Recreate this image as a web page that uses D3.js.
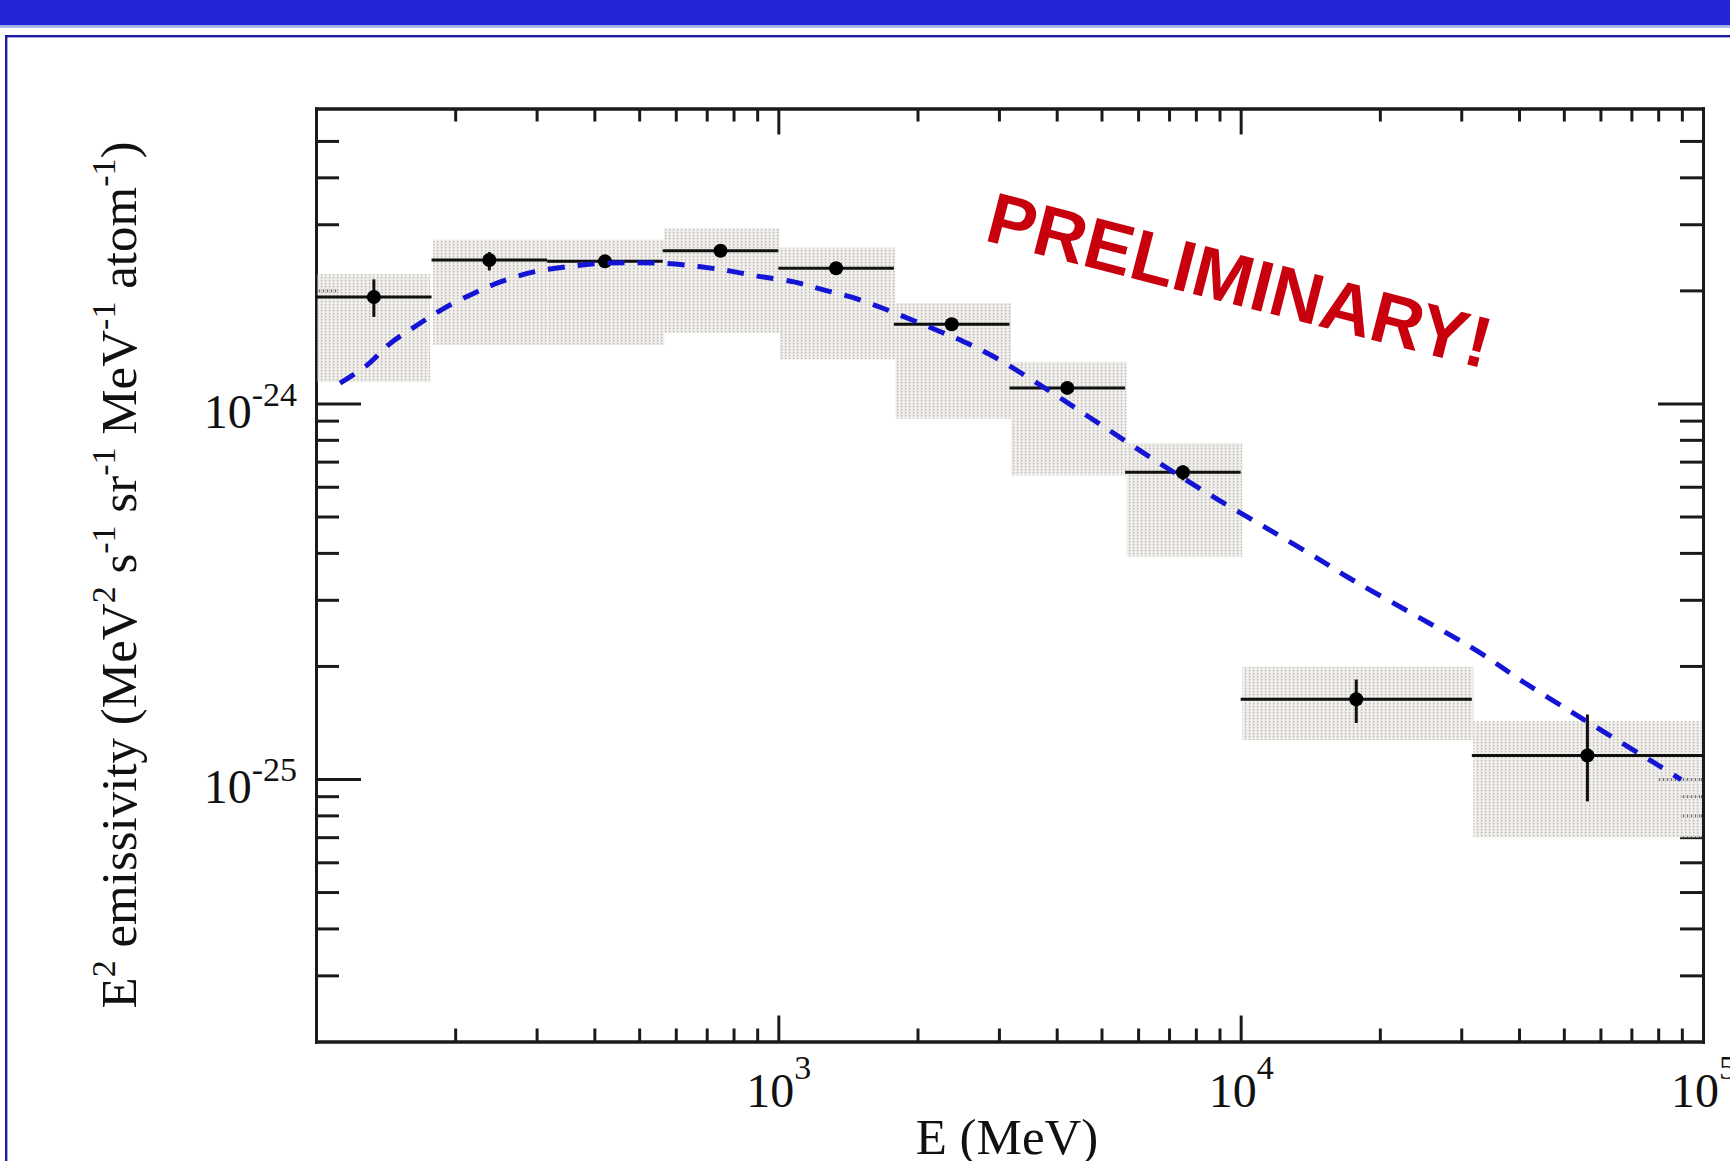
<!DOCTYPE html>
<meta charset="utf-8">
<title>E2 emissivity spectrum</title>
<style>
    body {
        margin: 0;
        background: #fff;
    }

    svg {
        display: block;
    }

    .axis path,
    .axis line {
        stroke: #1a1a1a;
        stroke-width: 3;
        fill: none;
    }

    .axis text,
    .label {
        font-family: "Liberation Serif", "DejaVu Serif", serif;
        fill: #111;
    }
</style>

<body>
    <div id="chart"></div>
    <script src="https://d3js.org/d3.v7.min.js"></script>

    <script>
        // energy bins (MeV)
        var binLo = [100, 177.8, 316.2, 562.3, 1000, 1778, 3162, 5623, 10000, 31623];
        var binHi = [177.8, 316.2, 562.3, 1000, 1778, 3162, 5623, 10000, 31623, 100000];
        var energy = [133.4, 237.1, 421.7, 749.9, 1333.5, 2371.4, 4217, 7499, 17783, 56234];

        // emissivity points, statistical errors, systematic band
        var emis = [1.92e-24, 2.41e-24, 2.39e-24, 2.55e-24, 2.29e-24, 1.625e-24, 1.10e-24, 6.56e-25, 1.63e-25, 1.155e-25];
        var statLo = [1.70e-24, 2.26e-24, 2.33e-24, 2.48e-24, 2.23e-24, 1.58e-24, 1.07e-24, 6.24e-25, 1.41e-25, 8.72e-26];
        var statHi = [2.14e-24, 2.53e-24, 2.45e-24, 2.62e-24, 2.35e-24, 1.67e-24, 1.13e-24, 6.84e-25, 1.84e-25, 1.485e-25];
        var sysLo = [1.14e-24, 1.43e-24, 1.43e-24, 1.54e-24, 1.31e-24, 9.10e-25, 6.43e-25, 3.91e-25, 1.27e-25, 6.99e-26];
        var sysHi = [2.21e-24, 2.73e-24, 2.73e-24, 2.93e-24, 2.60e-24, 1.85e-24, 1.29e-24, 7.84e-25, 1.99e-25, 1.426e-25];

        // model curve (blue dashed)
        var modelE = [112.7, 128.8, 144.6, 165.3, 188.7, 219.2, 250.4, 295.8, 349.2, 412.4, 486.8, 575.2, 679.0,
            788.6, 900.9, 1081, 1236, 1435, 1667, 1936, 2248, 2525, 2933, 3891, 5077, 6627, 8643, 11470, 14962,
            17095, 32520, 40590, 51560, 63190, 77430, 89700];
        var modelV = [1.133e-24, 1.263e-24, 1.443e-24, 1.615e-24, 1.789e-24, 1.963e-24, 2.107e-24, 2.241e-24,
            2.311e-24, 2.360e-24, 2.368e-24, 2.360e-24, 2.311e-24, 2.251e-24, 2.183e-24, 2.107e-24, 2.015e-24,
            1.921e-24, 1.801e-24, 1.673e-24, 1.55e-24, 1.458e-24, 1.329e-24, 1.072e-24, 8.643e-25, 6.973e-25,
            5.68e-25, 4.63e-25, 3.81e-25, 3.44e-25, 2.19e-25, 1.823e-25, 1.516e-25, 1.30e-25, 1.115e-25, 9.96e-26];

        // ticks
        var xMajor = [1e3, 1e4, 1e5];
        var xMinor = [200, 300, 400, 500, 600, 700, 800, 900, 2000, 3000, 4000, 5000, 6000, 7000, 8000, 9000,
            20000, 30000, 40000, 50000, 60000, 70000, 80000, 90000];
        var yMajor = [1e-25, 1e-24];
        var yMinor = [3e-26, 4e-26, 5e-26, 6e-26, 7e-26, 8e-26, 9e-26, 2e-25, 3e-25, 4e-25, 5e-25, 6e-25, 7e-25,
            8e-25, 9e-25, 2e-24, 3e-24, 4e-24, 5e-24];

        var width = 1730,
            height = 1161,
            plot = { left: 316, right: 1703, top: 108.5, bottom: 1041.5 };

        var svg = d3.select("#chart")
            .append("svg")
            .attr("width", width)
            .attr("height", height);

        // slide header
        svg.append("rect")
            .attr("x", 0).attr("y", 0)
            .attr("width", width).attr("height", 25.5)
            .attr("fill", "#2424d8");
        svg.append("rect")
            .attr("x", 0).attr("y", 25.5)
            .attr("width", width).attr("height", 2.5)
            .attr("fill", "#a4bbe8");
        svg.append("rect")
            .attr("x", 6.2).attr("y", 36.2)
            .attr("width", width).attr("height", height)
            .attr("fill", "none")
            .attr("stroke", "#1c1ca0")
            .attr("stroke-width", 2.4);

        // dotted fill for the systematic band (lets ticks underneath show through as dashes)
        var pat = svg.append("defs").append("pattern")
            .attr("id", "dots")
            .attr("patternUnits", "userSpaceOnUse")
            .attr("width", 4).attr("height", 3);
        pat.append("rect").attr("width", 3).attr("height", 3).attr("fill", "#ece9e6").attr("fill-opacity", 0.9);
        pat.append("rect").attr("x", 3).attr("width", 1).attr("height", 3).attr("fill", "#e4e1de").attr("fill-opacity", 0.45);
        pat.append("rect").attr("x", 1).attr("y", 1).attr("width", 1.3).attr("height", 1.3).attr("fill", "#bab5b0");

        var x = d3.scaleLog().domain([100, 1e5]).range([plot.left, plot.right]);
        var y = d3.scaleLog().domain([2e-26, 6.1e-24]).range([plot.bottom, plot.top]);

        var idx = d3.range(energy.length);

        /* axes: major + minor, ticks pointing inward on all four sides */
        function supLabel(sel, fs, sfs, xOff, yOff, supDy) {
            sel.selectAll(".tick text").each(function(d) {
                var t = d3.select(this)
                    .text(null)
                    .attr("font-size", fs)
                    .attr("dy", null)
                    .attr("x", xOff)
                    .attr("y", yOff);
                t.append("tspan").text("10");
                t.append("tspan")
                    .attr("font-size", sfs)
                    .attr("dy", supDy)
                    .text(Math.round(Math.log10(d)));
            });
        }

        function axisGroup(tr) {
            return svg.append("g").attr("class", "axis").attr("transform", tr);
        }

        var tl = `translate(${plot.left},0)`,
            tr = `translate(${plot.right},0)`,
            tb = `translate(0,${plot.bottom})`,
            tt = `translate(0,${plot.top})`;

        // left
        axisGroup(tl).call(d3.axisLeft(y).tickValues(yMinor).tickSizeInner(-23).tickSizeOuter(0).tickFormat(""));
        var gLeft = axisGroup(tl);
        gLeft.call(d3.axisLeft(y).tickValues(yMajor).tickSizeInner(-45).tickSizeOuter(0).tickPadding(19));
        supLabel(gLeft, 48, 34, -19, 24, -22);

        // right
        axisGroup(tr).call(d3.axisRight(y).tickValues(yMinor).tickSizeInner(-23).tickSizeOuter(0).tickFormat(""));
        axisGroup(tr).call(d3.axisRight(y).tickValues(yMajor).tickSizeInner(-45).tickSizeOuter(0).tickFormat(""));

        // bottom
        axisGroup(tb).call(d3.axisBottom(x).tickValues(xMinor).tickSizeInner(-13).tickSizeOuter(0).tickFormat(""));
        var gBottom = axisGroup(tb);
        gBottom.call(d3.axisBottom(x).tickValues(xMajor).tickSizeInner(-26).tickSizeOuter(0));
        supLabel(gBottom, 48, 34, 0, 65, -28);

        // top
        axisGroup(tt).call(d3.axisTop(x).tickValues(xMinor).tickSizeInner(-13).tickSizeOuter(0).tickFormat(""));
        axisGroup(tt).call(d3.axisTop(x).tickValues(xMajor).tickSizeInner(-26).tickSizeOuter(0).tickFormat(""));

        svg.selectAll(".axis .domain").attr("stroke-linecap", "square");

        /* systematic boxes, drawn over the ticks like in the original */
        svg.selectAll(".sys")
            .data(idx)
            .enter().append("rect")
            .attr("class", "sys")
            .attr("x", i => x(binLo[i]) + 1.5)
            .attr("y", i => y(sysHi[i]))
            .attr("width", i => x(binHi[i]) - x(binLo[i]) - (i == 0 || i == idx.length - 1 ? 3 : 0))
            .attr("height", i => y(sysLo[i]) - y(sysHi[i]))
            .attr("fill", "url(#dots)");

        /* bin width bars, stat errors and markers */
        svg.selectAll(".hbar")
            .data(idx)
            .enter().append("line")
            .attr("class", "hbar")
            .attr("x1", i => x(binLo[i]))
            .attr("x2", i => x(binHi[i]))
            .attr("y1", i => y(emis[i]))
            .attr("y2", i => y(emis[i]))
            .attr("stroke", "#111")
            .attr("stroke-width", 3);

        svg.selectAll(".vbar")
            .data(idx)
            .enter().append("line")
            .attr("class", "vbar")
            .attr("x1", i => x(energy[i]))
            .attr("x2", i => x(energy[i]))
            .attr("y1", i => y(statLo[i]))
            .attr("y2", i => y(statHi[i]))
            .attr("stroke", "#111")
            .attr("stroke-width", 3);

        svg.selectAll(".pt")
            .data(idx)
            .enter().append("circle")
            .attr("class", "pt")
            .attr("cx", i => x(energy[i]))
            .attr("cy", i => y(emis[i]))
            .attr("r", 7)
            .attr("fill", "#000");

        // model curve
        var line = d3.line()
            .x(i => x(modelE[i]))
            .y(i => y(modelV[i]))
            .curve(d3.curveCatmullRom);

        svg.append("path")
            .datum(d3.range(modelE.length))
            .attr("d", line)
            .attr("fill", "none")
            .attr("stroke", "#1414d4")
            .attr("stroke-width", 5)
            .attr("stroke-dasharray", "17,13");

        // axis titles
        svg.append("text")
            .attr("class", "label")
            .attr("x", 1007)
            .attr("y", 1154)
            .attr("text-anchor", "middle")
            .attr("font-size", 51)
            .text("E (MeV)");

        var yLab = svg.append("text")
            .attr("class", "label")
            .attr("transform", "translate(136,575) rotate(-90)")
            .attr("text-anchor", "middle")
            .attr("font-size", 51)
            .style("white-space", "pre");
        var parts = [
            ["E", 0], ["2", 1], [" emissivity (MeV", 0], ["2", 1], [" s", 0], ["-1", 1], [" sr", 0], ["-1", 1],
            [" MeV", 0], ["-1", 1], [" atom", 0], ["-1", 1], [")", 0]
        ];
        var raised = false;
        parts.forEach(p => {
            var ts = yLab.append("tspan").text(p[0]);
            if (p[1] && !raised) { ts.attr("dy", -21).attr("font-size", 34); raised = true; }
            else if (p[1]) { ts.attr("font-size", 34); }
            else if (raised) { ts.attr("dy", 21); raised = false; }
        });

        // watermark
        svg.append("text")
            .attr("transform", "translate(983,240) rotate(14.4)")
            .style("font-family", "'Liberation Sans', Arial, sans-serif")
            .style("font-weight", "bold")
            .style("font-size", "72px")
            .style("fill", "#c8000e")
            .text("PRELIMINARY!");
    </script>
</body>
